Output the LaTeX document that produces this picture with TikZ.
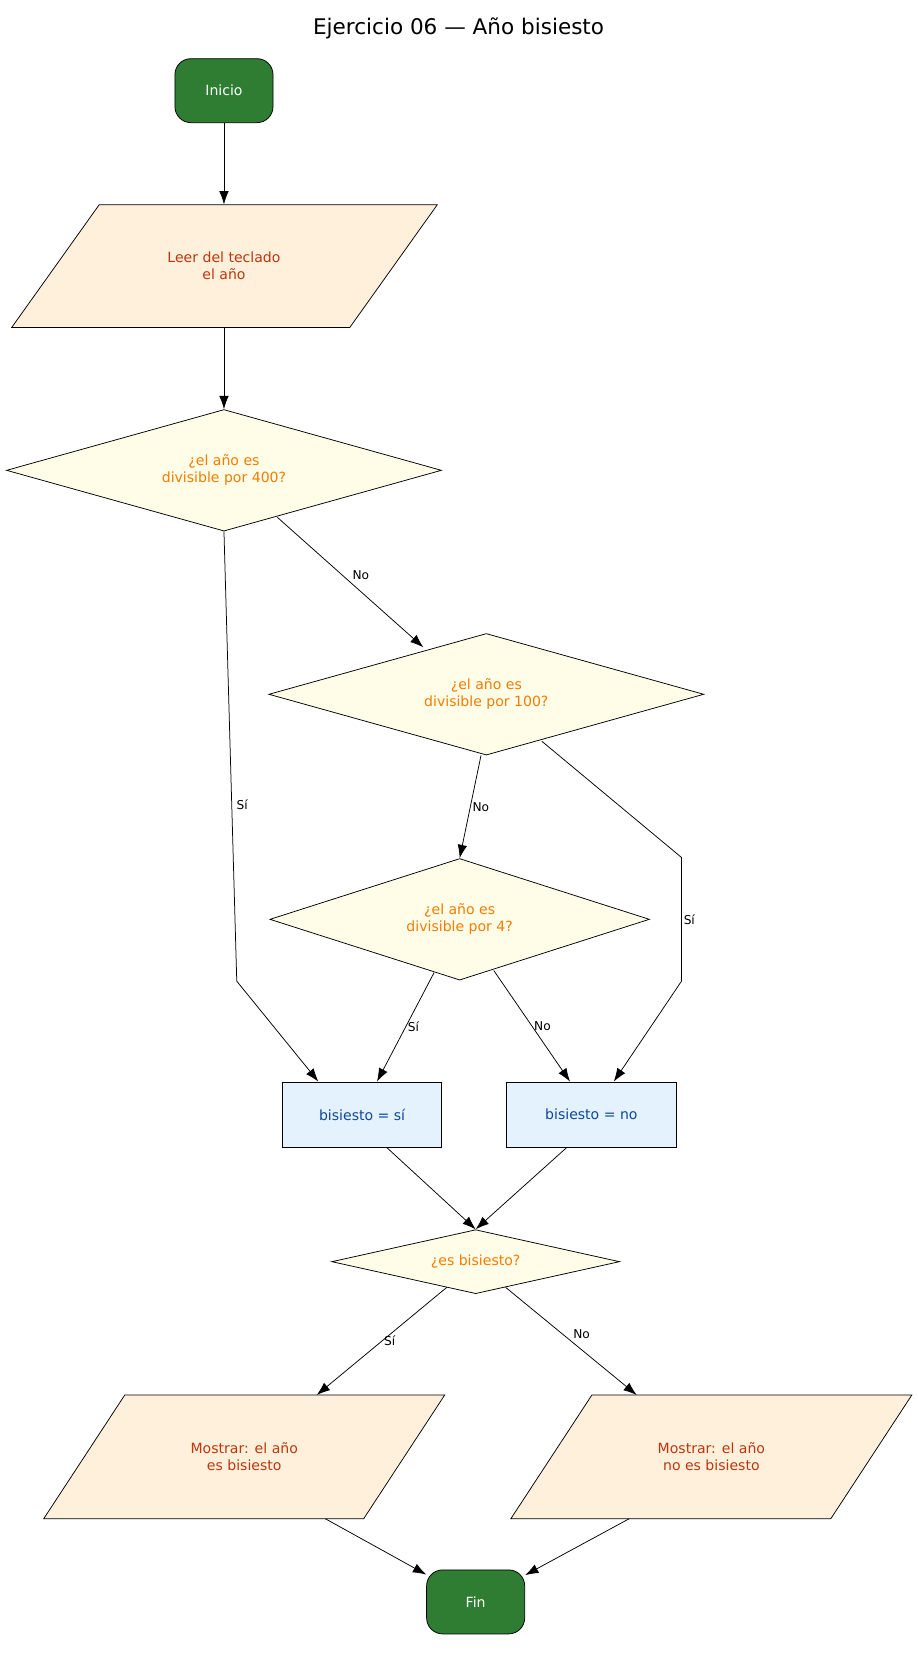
\documentclass[tikz,border=0pt]{standalone}
\usepackage{fontspec}
\setmainfont{DejaVu Sans}
\usetikzlibrary{shapes.geometric,arrows.meta}
\definecolor{termfill}{HTML}{2E7D32}
\definecolor{iofill}{HTML}{FFF0DC}
\definecolor{iotext}{HTML}{BF360C}
\definecolor{decfill}{HTML}{FFFDE7}
\definecolor{dectext}{HTML}{F57C00}
\definecolor{procfill}{HTML}{E3F2FD}
\definecolor{proctext}{HTML}{0D47A1}
\tikzset{
  term/.style={draw, rounded corners=0.3cm, fill=termfill, text=white, minimum width=1.84cm, minimum height=1.2cm, font=\fontsize{7.5}{9}\selectfont},
  io/.style={align=center, text=iotext, minimum height=2.3cm, inner sep=0pt, font=\fontsize{7.5}{9}\selectfont},
  ioshape/.style={draw, fill=iofill},
  dec/.style={draw, diamond, fill=decfill, text=dectext, align=center, inner sep=0pt, aspect=3, font=\fontsize{7.5}{9}\selectfont},
  proc/.style={draw, fill=procfill, text=proctext, minimum height=1.22cm, font=\fontsize{7.5}{9}\selectfont},
  arr/.style={-{Latex[length=0.25cm,width=0.18cm]}},
  lbl/.style={font=\fontsize{6.5}{8}\selectfont, inner sep=1pt}
}
\begin{document}
\begin{tikzpicture}[x=0.02cm, y=-0.02cm]
  \useasboundingbox (0,0) rectangle (860,1564);
  \node[font=\fontsize{11.5}{14}\selectfont] (title) at (430,27) {Ejercicio 06 — Año bisiesto};
  % paralelogramos
  \filldraw[ioshape] (93,192) -- (410,192) -- (328,307) -- (11,307) -- cycle;
  \filldraw[ioshape] (117,1308) -- (417,1308) -- (341,1424) -- (41,1424) -- cycle;
  \filldraw[ioshape] (555,1308) -- (855,1308) -- (779,1424) -- (479,1424) -- cycle;
  % nodos
  \node[term] (inicio) at (210,85) {Inicio};
  \node[io, minimum width=6.34cm] (leer) at (210,249.5) {Leer del teclado\\el año};
  \node[dec, minimum width=8.16cm, minimum height=2.28cm] (d400) at (210,441) {¿el año es\\divisible por 400?};
  \node[dec, minimum width=8.16cm, minimum height=2.28cm] (d100) at (456,651) {¿el año es\\divisible por 100?};
  \node[dec, minimum width=7.12cm, minimum height=2.28cm] (d4) at (431,862) {¿el año es\\divisible por 4?};
  \node[proc, minimum width=2.98cm] (si) at (339.5,1045) {bisiesto = sí};
  \node[proc, minimum width=3.18cm] (no) at (554.5,1045) {bisiesto = no};
  \node[dec, minimum width=5.4cm, minimum height=1.2cm] (esb) at (446,1183) {¿es bisiesto?};
  \node[io, minimum width=6cm] (msi) at (229,1366) {Mostrar: el año\\es bisiesto};
  \node[io, minimum width=6cm] (mno) at (667,1366) {Mostrar: el año\\no es bisiesto};
  \node[term] (fin) at (446,1502) {Fin};
  % conectores
  \draw[arr] (inicio) -- (leer.north);
  \draw[arr] (leer.south) -- (d400);
  \draw[arr] (260,485) -- node[lbl, above right] {No} (397,607);
  \draw[arr] (d400.south) -- (222,920) -- ([xshift=-0.82cm]si.north);
  \node[lbl] (lsi1) at (227,755) {Sí};
  \draw[arr] ([xshift=-0.1cm]d100.south) -- node[lbl, right] {No} (d4.north);
  \draw[arr] (508,695) -- (639,804) -- node[lbl, right] {Sí} (639,920) -- ([xshift=0.42cm]no.north);
  \draw[arr] (407,912) -- node[lbl, right] {Sí} ([xshift=0.28cm]si.north);
  \draw[arr] (463,910) -- node[lbl, right] {No} ([xshift=-0.4cm]no.north);
  \draw[arr] ([xshift=0.46cm]si.south) -- (esb.north);
  \draw[arr] ([xshift=-0.46cm]no.south) -- (esb.north);
  \draw[arr] (419,1207) -- node[lbl, right] {Sí} (297,1308);
  \draw[arr] (474,1207) -- node[lbl, above right] {No} (597,1308);
  \draw[arr] (305,1424) -- (fin);
  \draw[arr] (590,1424) -- (fin);
\end{tikzpicture}
\end{document}
